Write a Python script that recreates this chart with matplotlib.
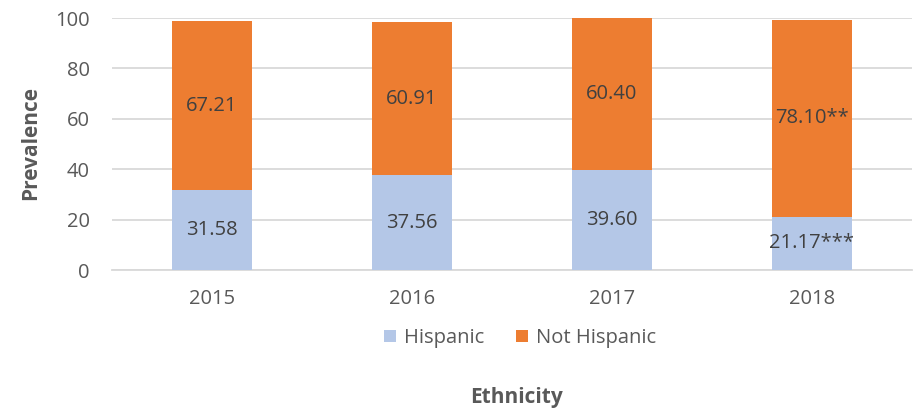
import matplotlib
matplotlib.use("Agg")
import matplotlib.pyplot as plt
import numpy as np

years = ["2015", "2016", "2017", "2018"]
hispanic = [31.58, 37.56, 39.60, 21.17]
not_hispanic = [67.21, 60.91, 60.40, 78.10]
hisp_labels = ["31.58", "37.56", "39.60", "21.17***"]
not_labels = ["67.21", "60.91", "60.40", "78.10**"]

plt.rcParams['font.family'] = ['Open Sans', 'DejaVu Sans']
gray = "#595959"
c_h = "#B4C7E7"
c_n = "#ED7D31"

fig = plt.figure(figsize=(9.17, 4.12), dpi=100)
ax = fig.add_axes([112 / 917, 1 - 270 / 412, 800 / 917, 252 / 412])
x = np.arange(len(years))
w = 0.4
b1 = ax.bar(x, hispanic, w, color=c_h, label="Hispanic", zorder=3)
b2 = ax.bar(x, not_hispanic, w, bottom=hispanic, color=c_n, label="Not Hispanic", zorder=3)
for i in range(len(years)):
    ax.text(x[i], hispanic[i] / 2, hisp_labels[i], ha="center", va="center",
            fontsize=14.5, color="#404040", zorder=4)
    ax.text(x[i], hispanic[i] + not_hispanic[i] / 2, not_labels[i], ha="center", va="center",
            fontsize=14.5, color="#404040", zorder=4)

ax.set_xlim(-0.5, 3.5)
ax.set_ylim(0, 100)
ax.set_yticks(range(0, 101, 20))
ax.set_xticks(x)
ax.set_xticklabels(years)
ax.yaxis.grid(True, color="#D9D9D9", linewidth=1.3, zorder=0)
for s in ["top", "right", "left"]:
    ax.spines[s].set_visible(False)
ax.spines["bottom"].set_color("#D9D9D9")
ax.spines["bottom"].set_linewidth(1.3)
ax.tick_params(axis="both", length=0, colors=gray, labelsize=14.5)
ax.tick_params(axis="x", pad=14)
ax.tick_params(axis="y", pad=16)
ax.set_ylabel("Prevalence", fontsize=15, fontweight="bold", color=gray)
ax.yaxis.set_label_coords(-0.089, 0.505)
fig.text(517 / 917, 1 - 397 / 412, "Ethnicity", ha="center", va="center", fontsize=15,
         fontweight="bold", color=gray)
fig.legend(handles=[b1, b2], loc="center", bbox_to_anchor=(520 / 917, 1 - 338 / 412), ncol=2,
           frameon=False, fontsize=14.5, labelcolor=gray, handlelength=0.6,
           handleheight=0.6, handletextpad=0.4, columnspacing=1.6)
fig.savefig("out.png", dpi=100)
